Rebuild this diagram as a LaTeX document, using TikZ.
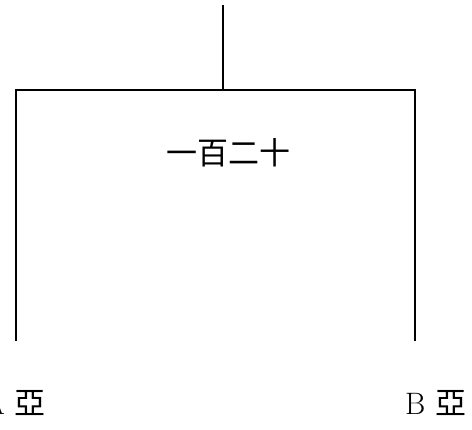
\documentclass[tikz,border=0pt]{standalone}
\usepackage{fontspec}
\newfontfamily\cjk{Noto Sans CJK TC}
\begin{document}
\begin{tikzpicture}[x=1pt,y=1pt,
  treeline/.style={line width=1.6pt,black},
  lbl/.style={inner sep=0pt,font=\fontsize{31}{36}\selectfont}]
\useasboundingbox (0,0) rectangle (472,430);
\coordinate (top) at (223,425);
\coordinate (mid) at (223,340);
\coordinate (lc) at (16,340);
\coordinate (rc) at (415,340);
\coordinate (le) at (16,90);
\coordinate (re) at (415,90);
\draw[treeline] (top) -- (mid);
\draw[treeline,line cap=rect] (le) -- (lc) -- (rc) -- (re);
\node[lbl,anchor=base] (num) at (228,265) {\cjk 一百二十};
\node[lbl,anchor=base east] (la) at (46,15) {A\hspace{10pt}{\cjk 亞}};
\node[lbl,anchor=base west] (rb) at (405,15) {B\hspace{10pt}{\cjk 亞}};
\end{tikzpicture}
\end{document}
